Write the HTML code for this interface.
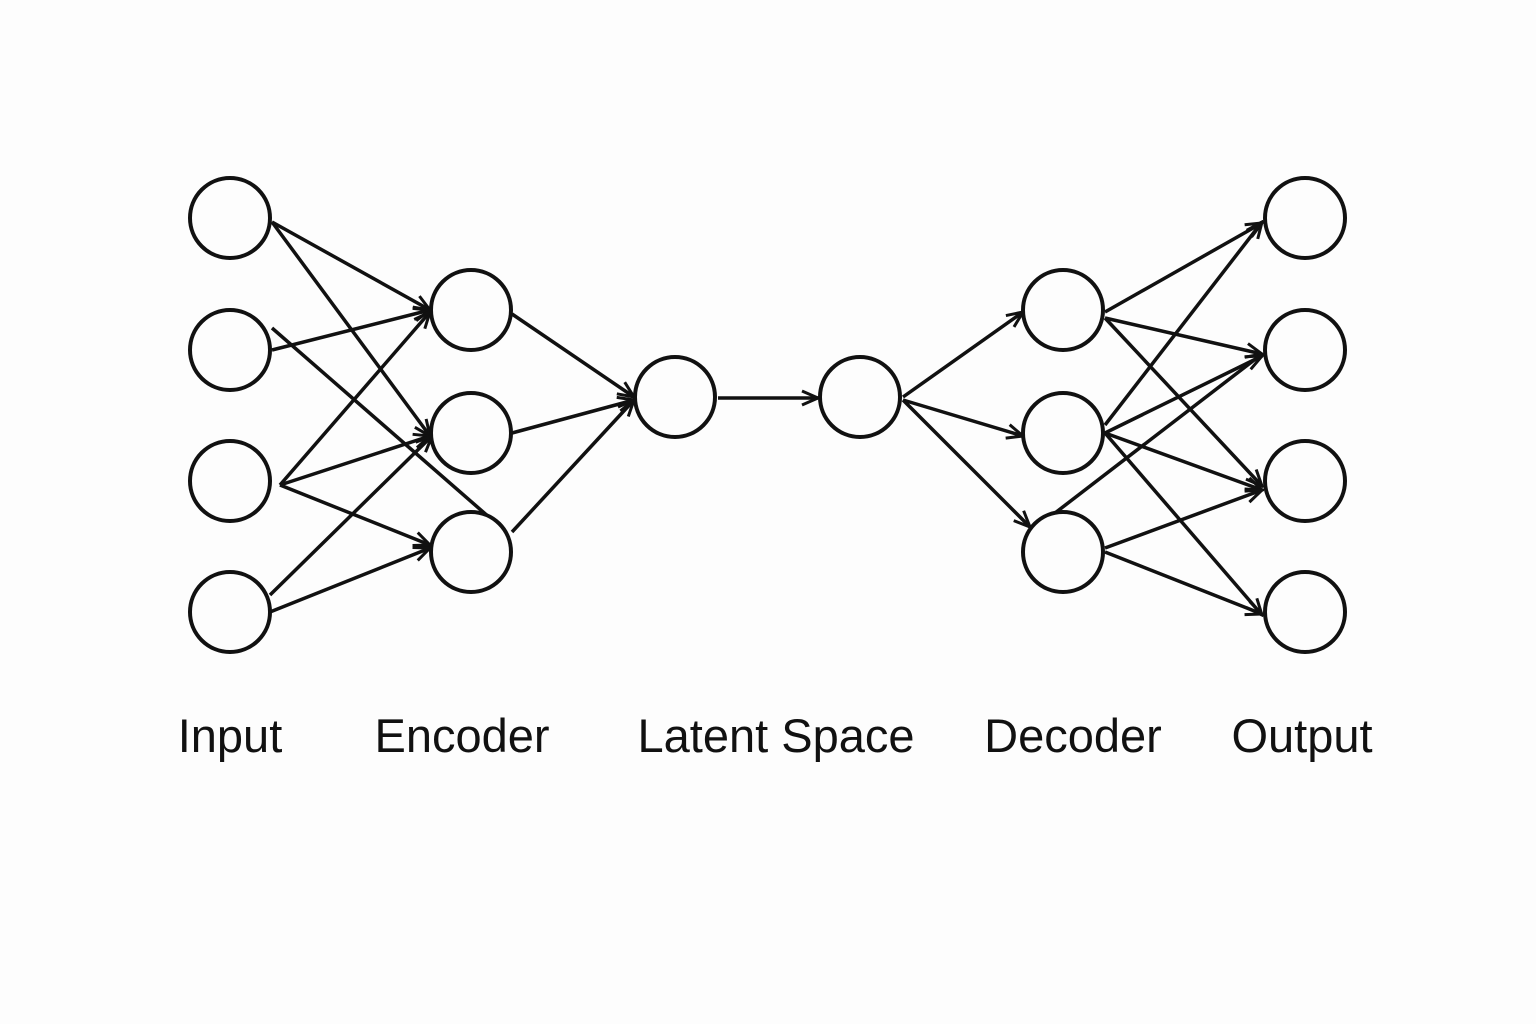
<!DOCTYPE html>
<html><head><style>
body{margin:0;background:#fdfdfd;}
svg{display:block}
text{font-family:"Liberation Sans","DejaVu Sans",sans-serif;font-size:47px;fill:#111;text-anchor:middle}
</style></head><body>
<svg width="1536" height="1024" viewBox="0 0 1536 1024">
<defs><marker id="a" viewBox="0 0 20 20" refX="18" refY="10" markerWidth="20" markerHeight="20" markerUnits="userSpaceOnUse" orient="auto">
<path d="M2,3 L18,10 L2,17" fill="none" stroke="#111" stroke-width="3"/></marker></defs>
<g stroke="#111" stroke-width="3.5" fill="none">
<line x1="272" y1="222" x2="430" y2="310" marker-end="url(#a)"/>
<line x1="272" y1="222" x2="430" y2="436" marker-end="url(#a)"/>
<line x1="272" y1="350" x2="430" y2="310" marker-end="url(#a)"/>
<line x1="272" y1="328" x2="490" y2="518"/>
<line x1="280" y1="485" x2="430" y2="312" marker-end="url(#a)"/>
<line x1="280" y1="485" x2="430" y2="436" marker-end="url(#a)"/>
<line x1="280" y1="485" x2="430" y2="545" marker-end="url(#a)"/>
<line x1="270" y1="595" x2="432" y2="436" marker-end="url(#a)"/>
<line x1="270" y1="612" x2="430" y2="548" marker-end="url(#a)"/>
<line x1="512" y1="314" x2="634" y2="397" marker-end="url(#a)"/>
<line x1="512" y1="433" x2="634" y2="400" marker-end="url(#a)"/>
<line x1="512" y1="532" x2="634" y2="400" marker-end="url(#a)"/>
<line x1="718" y1="398" x2="818" y2="398" marker-end="url(#a)"/>
<line x1="903" y1="397" x2="1023" y2="312" marker-end="url(#a)"/>
<line x1="903" y1="400" x2="1023" y2="436" marker-end="url(#a)"/>
<line x1="903" y1="400" x2="1030" y2="527" marker-end="url(#a)"/>
<line x1="1105" y1="312" x2="1262" y2="223" marker-end="url(#a)"/>
<line x1="1105" y1="318" x2="1262" y2="354" marker-end="url(#a)"/>
<line x1="1105" y1="318" x2="1262" y2="486" marker-end="url(#a)"/>
<line x1="1105" y1="433" x2="1262" y2="356" marker-end="url(#a)"/>
<line x1="1105" y1="433" x2="1262" y2="490" marker-end="url(#a)"/>
<line x1="1105" y1="425" x2="1262" y2="222" marker-end="url(#a)"/>
<line x1="1105" y1="433" x2="1262" y2="615" marker-end="url(#a)"/>
<line x1="1055" y1="513" x2="1262" y2="354"/>
<line x1="1105" y1="548" x2="1262" y2="490" marker-end="url(#a)"/>
<line x1="1105" y1="552" x2="1262" y2="614" marker-end="url(#a)"/>
</g>
<g stroke="#111" stroke-width="4" fill="#fdfdfd">
<circle cx="230" cy="218" r="40"/><circle cx="230" cy="350" r="40"/><circle cx="230" cy="481" r="40"/><circle cx="230" cy="612" r="40"/>
<circle cx="471" cy="310" r="40"/><circle cx="471" cy="433" r="40"/><circle cx="471" cy="552" r="40"/>
<circle cx="675" cy="397" r="40"/><circle cx="860" cy="397" r="40"/>
<circle cx="1063" cy="310" r="40"/><circle cx="1063" cy="433" r="40"/><circle cx="1063" cy="552" r="40"/>
<circle cx="1305" cy="218" r="40"/><circle cx="1305" cy="350" r="40"/><circle cx="1305" cy="481" r="40"/><circle cx="1305" cy="612" r="40"/>
</g>
<text x="230" y="752">Input</text>
<text x="462" y="752">Encoder</text>
<text x="776" y="752">Latent Space</text>
<text x="1073" y="752">Decoder</text>
<text x="1302" y="752">Output</text>
</svg>
</body></html>
